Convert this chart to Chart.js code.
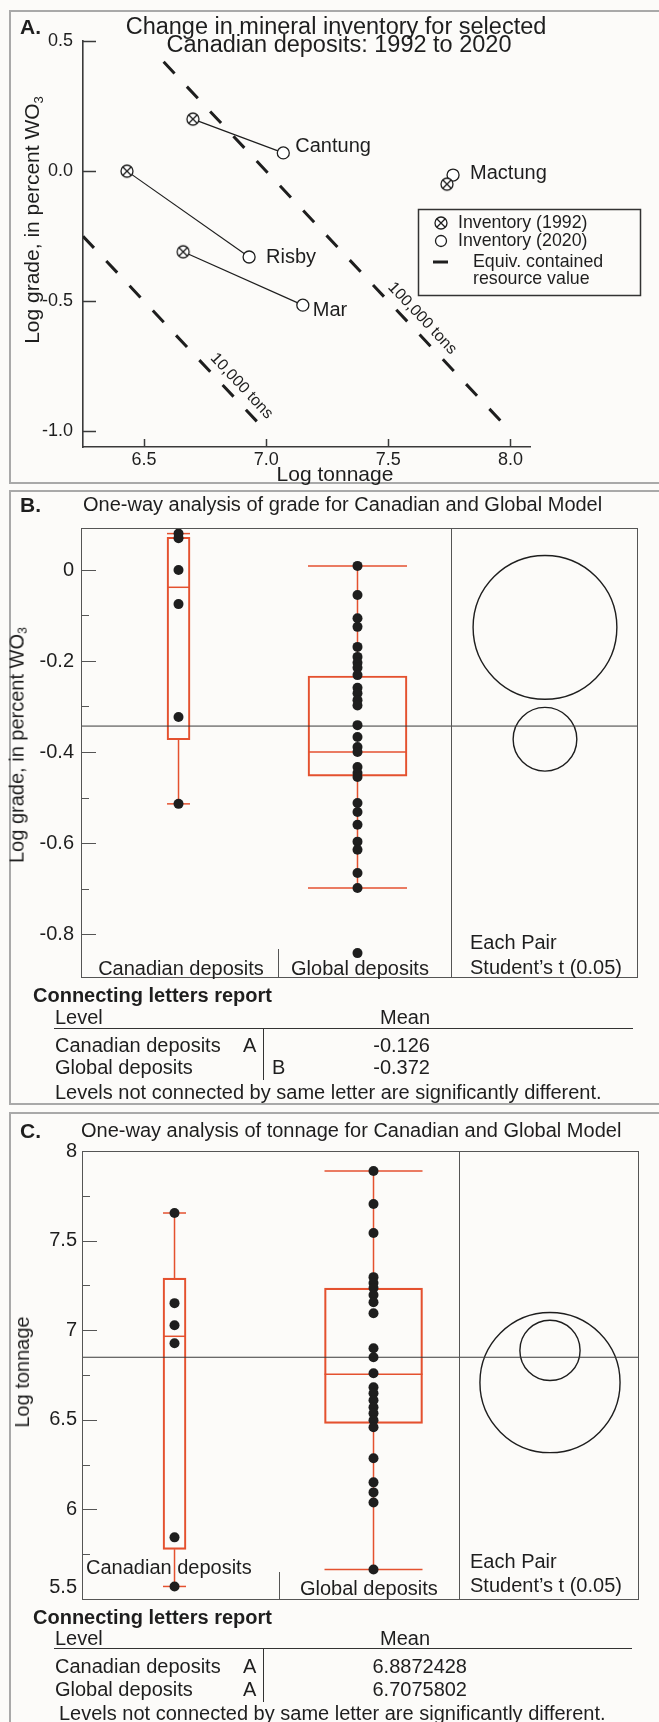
<!DOCTYPE html>
<html>
<head>
<meta charset="utf-8">
<script src="https://cdn.jsdelivr.net/npm/chart.js@4.4.1/dist/chart.umd.min.js"></script>
<style>
  html, body { margin: 0; padding: 0; background: #fcfbf9; }
  body { width: 659px; height: 1722px; position: relative; overflow: hidden;
         font-family: 'Liberation Sans', Arial, Helvetica, sans-serif; color: #1e1e1e; }
  .panel { position: absolute; left: 9px; width: 690px; border: 2px solid #a9a9a9; box-sizing: border-box; }
  canvas { position: absolute; left: 0; }
  .t { position: absolute; white-space: nowrap; line-height: 1; transform: translateY(-50%); }
  .c { transform: translate(-50%, -50%); }
  .r { transform: translate(-100%, -50%); }
  .rot { transform: translate(-50%, -50%) rotate(-90deg); }
  .b { font-weight: bold; }
  .hl { position: absolute; height: 1px; background: #333; }
  .vl { position: absolute; width: 1px; background: #333; }
  .sub { font-size: 0.62em; vertical-align: -0.28em; }
</style>
</head>
<body>
<div class="panel" style="top:10px;height:474px"></div>
<div class="panel" style="top:490px;height:615px"></div>
<div class="panel" style="top:1112px;height:640px"></div>

<canvas id="chartA" width="659" height="484" style="top:0"></canvas>
<canvas id="chartB" width="659" height="615" style="top:490px"></canvas>
<canvas id="chartC" width="659" height="610" style="top:1112px"></canvas>

<!-- Panel A text -->
<div class="t b" style="left:20px;top:26px;font-size:21px">A.</div>
<div class="t c" style="left:336px;top:27px;font-size:23.5px">Change in mineral inventory for selected</div>
<div class="t c" style="left:339px;top:45px;font-size:23.5px">Canadian deposits: 1992 to 2020</div>
<div class="t rot" style="left:33px;top:220px;font-size:21px">Log grade, in percent WO<span class="sub">3</span></div>
<div class="t c" style="left:335px;top:473px;font-size:21px">Log tonnage</div>

<!-- Panel B text -->
<div class="t b" style="left:20px;top:504px;font-size:21px">B.</div>
<div class="t" style="left:83px;top:504px;font-size:20px">One-way analysis of grade for Canadian and Global Model</div>
<div class="t rot" style="left:18px;top:745px;font-size:20px">Log grade, in percent WO<span class="sub">3</span></div>
<div class="t c" style="left:181px;top:968px;font-size:20px">Canadian deposits</div>
<div class="t c" style="left:360px;top:968px;font-size:20px">Global deposits</div>
<div class="t" style="left:470px;top:942px;font-size:20px">Each Pair</div>
<div class="t" style="left:470px;top:967px;font-size:20px">Student’s t (0.05)</div>
<div class="t b" style="left:33px;top:995px;font-size:20px">Connecting letters report</div>
<div class="t" style="left:55px;top:1017px;font-size:20px">Level</div>
<div class="t c" style="left:405px;top:1017px;font-size:20px">Mean</div>
<div class="hl" style="left:54px;top:1028px;width:579px"></div>
<div class="vl" style="left:263px;top:1028px;height:52px"></div>
<div class="t" style="left:55px;top:1045px;font-size:20px">Canadian deposits</div>
<div class="t" style="left:243px;top:1045px;font-size:20px">A</div>
<div class="t r" style="left:430px;top:1045px;font-size:20px">-0.126</div>
<div class="t" style="left:55px;top:1067px;font-size:20px">Global deposits</div>
<div class="t" style="left:272px;top:1067px;font-size:20px">B</div>
<div class="t r" style="left:430px;top:1067px;font-size:20px">-0.372</div>
<div class="t" style="left:55px;top:1092px;font-size:20px">Levels not connected by same letter are significantly different.</div>

<!-- Panel C text -->
<div class="t b" style="left:20px;top:1130px;font-size:21px">C.</div>
<div class="t" style="left:81px;top:1130px;font-size:20px">One-way analysis of tonnage for Canadian and Global Model</div>
<div class="t rot" style="left:22px;top:1372px;font-size:20px">Log tonnage</div>
<div class="t" style="left:86px;top:1567px;font-size:20px">Canadian deposits</div>
<div class="t" style="left:300px;top:1588px;font-size:20px">Global deposits</div>
<div class="t" style="left:470px;top:1561px;font-size:20px">Each Pair</div>
<div class="t" style="left:470px;top:1585px;font-size:20px">Student’s t (0.05)</div>
<div class="t b" style="left:33px;top:1617px;font-size:20px">Connecting letters report</div>
<div class="t" style="left:55px;top:1638px;font-size:20px">Level</div>
<div class="t c" style="left:405px;top:1638px;font-size:20px">Mean</div>
<div class="hl" style="left:54px;top:1648px;width:578px"></div>
<div class="vl" style="left:263px;top:1648px;height:54px"></div>
<div class="t" style="left:55px;top:1666px;font-size:20px">Canadian deposits</div>
<div class="t" style="left:243px;top:1666px;font-size:20px">A</div>
<div class="t r" style="left:467px;top:1666px;font-size:20px">6.8872428</div>
<div class="t" style="left:55px;top:1689px;font-size:20px">Global deposits</div>
<div class="t" style="left:243px;top:1689px;font-size:20px">A</div>
<div class="t r" style="left:467px;top:1689px;font-size:20px">6.7075802</div>
<div class="t" style="left:59px;top:1713px;font-size:20px">Levels not connected by same letter are significantly different.</div>

<script>
// ---------------- Panel A: inventory change, log grade vs log tonnage ----------------
const deposits      = ['Cantung', 'Risby', 'Mar', 'Mactung'];
const logTons1992   = [6.70, 6.43, 6.66, 7.74];
const logGrade1992  = [0.20, 0.00, -0.31, -0.05];
const logTons2020   = [7.07, 6.93, 7.15, 7.765];
const logGrade2020  = [0.07, -0.33, -0.515, -0.015];
const tonTicksA     = [6.5, 7.0, 7.5, 8.0];
const gradeTicksA   = [-1.0, -0.5, 0.0, 0.5];

// equal contained-resource lines (end points in log tonnage / log grade)
const contourNames  = ['10,000 tons', '100,000 tons'];
const contourTons   = [[6.25, 7.0], [6.58, 8.0]];
const contourGrade  = [[-0.25, -1.0], [0.42, -1.0]];
const contourLabelTons = [6.86, 7.60];

// ---------------- Panel B: log grade by group ----------------
const groups        = ['Canadian deposits', 'Global deposits'];
const canadianGrade = [0.080, 0.070, 0.000, -0.075, -0.323, -0.514];
const globalGrade   = [0.009, -0.055, -0.106, -0.125, -0.169, -0.191, -0.204, -0.215, -0.231,
                       -0.259, -0.271, -0.286, -0.298, -0.341, -0.367, -0.389, -0.400, -0.433,
                       -0.446, -0.455, -0.512, -0.532, -0.560, -0.597, -0.615, -0.666, -0.699, -0.842];
const gradeBoxCanadian = { min: -0.514, q1: -0.373, med: -0.038, q3: 0.072, max: 0.080 };
const gradeBoxGlobal   = { min: -0.699, q1: -0.453, med: -0.400, q3: -0.233, max: 0.009 };
const gradeMeans       = [-0.126, -0.372];
const gradeCircleRadii = [0.158, 0.070];
const gradeGrandMean   = -0.343;
const gradeTicksB      = [0, -0.2, -0.4, -0.6, -0.8];
const gradeMinorTicksB = [-0.1, -0.3, -0.5, -0.7];

// ---------------- Panel C: log tonnage by group ----------------
const canadianTons = [7.654, 7.151, 7.028, 6.927, 5.844, 5.570];
const globalTons   = [7.888, 7.704, 7.542, 7.296, 7.263, 7.235, 7.196, 7.156, 7.095, 6.899,
                      6.849, 6.760, 6.682, 6.648, 6.609, 6.570, 6.536, 6.497, 6.458, 6.285,
                      6.151, 6.095, 6.039, 5.665];
const tonBoxCanadian = { min: 5.570, q1: 5.777, med: 6.966, q3: 7.291, max: 7.654 };
const tonBoxGlobal   = { min: 5.665, q1: 6.480, med: 6.754, q3: 7.235, max: 7.888 };
const tonMeans       = [6.8872428, 6.7075802];
const tonCircleRadii = [0.168, 0.391];
const tonGrandMean   = 6.849;
const tonTicksC      = [8, 7.5, 7, 6.5, 6, 5.5];
const tonMinorTicksC = [7.75, 7.25, 6.75, 6.25, 5.75];

// ---------------- shared styling ----------------
const FONT = "'Liberation Sans', Arial, Helvetica, sans-serif";
const INK = '#1e1e1e';
const RED = '#e4512f';
Chart.defaults.font.family = FONT;
Chart.defaults.color = INK;

// horizontal placement of the groups inside the B / C frames (fraction of frame width)
const layoutB = { pos: [0.1754, 0.4973], boundary: 0.3543, divider: 0.6655, circles: 0.8345, boxPx: [23, 99] };
const layoutC = { pos: [0.1664, 0.5243], boundary: 0.3543, divider: 0.678,  circles: 0.8417, boxPx: [23, 98] };

// circled-cross marker for the 1992 inventory
function crossCircleImage(r, lw) {
  const size = Math.ceil(2 * r + lw + 2);
  const c = document.createElement('canvas');
  c.width = c.height = size;
  const g = c.getContext('2d');
  const m = size / 2;
  g.fillStyle = '#fff';
  g.strokeStyle = INK;
  g.lineWidth = lw;
  g.beginPath(); g.arc(m, m, r, 0, Math.PI * 2); g.fill(); g.stroke();
  const d = r * Math.SQRT1_2;
  g.beginPath();
  g.moveTo(m - d, m - d); g.lineTo(m + d, m + d);
  g.moveTo(m + d, m - d); g.lineTo(m - d, m + d);
  g.stroke();
  return c;
}
const crossImg = crossCircleImage(6, 1.3);

// tick marks that point into the plot area
function inwardTicks(axes, color, width) {
  return {
    id: 'inwardTicks',
    afterDatasetsDraw(chart) {
      const { ctx, chartArea: a } = chart;
      ctx.save();
      ctx.strokeStyle = color;
      ctx.lineWidth = width;
      axes.forEach(ax => {
        const s = chart.scales[ax.id];
        s.ticks.forEach(t => {
          const len = ax.isMajor(t.value) ? ax.major : ax.minor;
          const p = Math.round(s.getPixelForValue(t.value)) + 0.5;
          ctx.beginPath();
          if (s.isHorizontal()) { ctx.moveTo(p, a.bottom); ctx.lineTo(p, a.bottom - len); }
          else { ctx.moveTo(a.left, p); ctx.lineTo(a.left + len, p); }
          ctx.stroke();
        });
      });
      ctx.restore();
    }
  };
}

// frame, divider before the comparison circles, and the group boundary mark
function framePlugin(lay, boundaryLen) {
  return {
    id: 'frame',
    afterDatasetsDraw(chart) {
      const { ctx, chartArea: a } = chart;
      const x = chart.scales.x;
      ctx.save();
      ctx.strokeStyle = '#555';
      ctx.lineWidth = 1;
      ctx.strokeRect(Math.round(a.left) + 0.5, Math.round(a.top) + 0.5,
                     Math.round(a.right - a.left), Math.round(a.bottom - a.top));
      const dx = Math.round(x.getPixelForValue(lay.divider)) + 0.5;
      ctx.beginPath(); ctx.moveTo(dx, a.top); ctx.lineTo(dx, a.bottom); ctx.stroke();
      const bx = Math.round(x.getPixelForValue(lay.boundary)) + 0.5;
      ctx.beginPath(); ctx.moveTo(bx, a.bottom); ctx.lineTo(bx, a.bottom - boundaryLen); ctx.stroke();
      ctx.restore();
    }
  };
}

// box, whiskers, caps and median for one group
function boxDatasets(x, st, widthPx) {
  const half = widthPx / 2;
  return [
    { type: 'bar', data: [{ x, y: [st.q1, st.q3] }], grouped: false, barThickness: widthPx,
      backgroundColor: 'rgba(0,0,0,0)', borderColor: RED, borderWidth: 1.5, borderSkipped: false, order: 4 },
    { type: 'scatter', showLine: true, spanGaps: false,
      data: [{ x, y: st.max }, { x, y: st.q3 }, { x, y: null }, { x, y: st.q1 }, { x, y: st.min }],
      borderColor: RED, borderWidth: 1.5, pointRadius: 0, order: 4 },
    { type: 'scatter', data: [{ x, y: st.max }, { x, y: st.med }, { x, y: st.min }],
      pointStyle: 'line', pointRadius: half, borderColor: RED, borderWidth: 1.5, order: 4 }
  ];
}

function dotDataset(x, values) {
  return { type: 'scatter', data: values.map(v => ({ x, y: v })), pointRadius: 5,
           backgroundColor: INK, borderColor: INK, borderWidth: 0, order: 1 };
}

function meanLine(m) {
  return { type: 'scatter', showLine: true, data: [{ x: 0, y: m }, { x: 1, y: m }],
           borderColor: '#3a3a3a', borderWidth: 1, pointRadius: 0, order: 2 };
}

function circleDataset(x, means, radii) {
  return {
    type: 'scatter', data: means.map(m => ({ x, y: m })), pointStyle: 'circle',
    pointRadius: ctx => {
      const s = ctx.chart.scales.y;
      const r = radii[ctx.dataIndex];
      if (r === undefined || !s) return 0;
      return Math.abs(s.getPixelForValue(0) - s.getPixelForValue(r));
    },
    backgroundColor: 'rgba(0,0,0,0)', borderColor: INK, borderWidth: 1.4, order: 3
  };
}

const baseOpts = {
  responsive: false, animation: false, events: [],
  plugins: { legend: { display: false }, tooltip: { enabled: false } }
};

// ---------------- chart A ----------------
const labelOffsetA = [[12, -6], [17, 0], [10, 5], [17, -2]];

const annotateA = {
  id: 'annotateA',
  afterDatasetsDraw(chart) {
    const { ctx, scales: { x, y } } = chart;
    ctx.save();
    ctx.fillStyle = INK;
    ctx.textBaseline = 'middle';
    ctx.textAlign = 'left';
    ctx.font = `20px ${FONT}`;
    deposits.forEach((name, i) => {
      ctx.fillText(name, x.getPixelForValue(logTons2020[i]) + labelOffsetA[i][0],
                         y.getPixelForValue(logGrade2020[i]) + labelOffsetA[i][1]);
    });
    // contour labels laid along their dashed lines
    ctx.font = `16px ${FONT}`;
    ctx.textAlign = 'center';
    contourNames.forEach((name, i) => {
      const [t0, t1] = contourTons[i], [g0, g1] = contourGrade[i];
      const x0 = x.getPixelForValue(t0), y0 = y.getPixelForValue(g0);
      const x1 = x.getPixelForValue(t1), y1 = y.getPixelForValue(g1);
      const ang = Math.atan2(y1 - y0, x1 - x0);
      const f = (contourLabelTons[i] - t0) / (t1 - t0);
      const px = x0 + f * (x1 - x0) + 13 * Math.sin(ang);
      const py = y0 + f * (y1 - y0) - 13 * Math.cos(ang);
      ctx.save();
      ctx.translate(px, py);
      ctx.rotate(ang);
      ctx.fillText(name, 0, 0);
      ctx.restore();
    });
    // legend box
    ctx.strokeStyle = '#333';
    ctx.lineWidth = 1.5;
    ctx.strokeRect(418.5, 209.5, 222, 86);
    ctx.drawImage(crossImg, 441 - crossImg.width / 2, 223 - crossImg.height / 2);
    ctx.beginPath(); ctx.arc(441, 241, 5.5, 0, Math.PI * 2);
    ctx.fillStyle = '#fff'; ctx.fill();
    ctx.strokeStyle = INK; ctx.lineWidth = 1.3; ctx.stroke();
    ctx.beginPath(); ctx.moveTo(433, 262); ctx.lineTo(448, 262);
    ctx.lineWidth = 3; ctx.stroke();
    ctx.fillStyle = INK;
    ctx.textAlign = 'left';
    ctx.font = `17.8px ${FONT}`;
    ctx.fillText('Inventory (1992)', 458, 223);
    ctx.fillText('Inventory (2020)', 458, 241);
    ctx.fillText('Equiv. contained', 473, 262);
    ctx.fillText('resource value', 473, 279);
    ctx.restore();
  }
};

const datasetsA = [];
contourNames.forEach((n, i) => {
  datasetsA.push({ type: 'scatter', showLine: true,
    data: contourTons[i].map((t, k) => ({ x: t, y: contourGrade[i][k] })),
    borderColor: INK, borderWidth: 3, borderDash: [16, 18], pointRadius: 0, order: 5 });
});
deposits.forEach((n, i) => {
  datasetsA.push({ type: 'scatter', showLine: true,
    data: [{ x: logTons1992[i], y: logGrade1992[i] }, { x: logTons2020[i], y: logGrade2020[i] }],
    borderColor: INK, borderWidth: 1.2, pointRadius: 0, order: 4 });
});
datasetsA.push({ type: 'scatter', data: deposits.map((n, i) => ({ x: logTons2020[i], y: logGrade2020[i] })),
  pointStyle: 'circle', pointRadius: 6, backgroundColor: '#fff', borderColor: INK, borderWidth: 1.3, order: 2 });
datasetsA.push({ type: 'scatter', data: deposits.map((n, i) => ({ x: logTons1992[i], y: logGrade1992[i] })),
  pointStyle: crossImg, pointRadius: 6, order: 1 });

new Chart(document.getElementById('chartA'), {
  type: 'scatter',
  data: { datasets: datasetsA },
  options: {
    ...baseOpts,
    layout: { autoPadding: false, padding: { left: 0, right: 129, top: 41, bottom: 0 } },
    scales: {
      x: { type: 'linear', min: 6.25, max: 8.08, offset: false,
           afterBuildTicks: s => { s.ticks = tonTicksA.map(v => ({ value: v })); },
           ticks: { callback: v => v.toFixed(1), font: { size: 18 }, padding: 2, autoSkip: false, maxRotation: 0 },
           grid: { display: false, drawTicks: false },
           border: { display: true, color: '#3a3a3a', width: 1.6 },
           afterFit: s => { s.height = 37; } },
      y: { type: 'linear', min: -1.06, max: 0.5, offset: false,
           afterBuildTicks: s => { s.ticks = gradeTicksA.map(v => ({ value: v })); },
           ticks: { callback: v => v.toFixed(1), font: { size: 18 }, padding: 10, autoSkip: false },
           grid: { display: false, drawTicks: false },
           border: { display: true, color: '#3a3a3a', width: 1.6 },
           afterFit: s => { s.width = 83; } }
    }
  },
  plugins: [
    inwardTicks([{ id: 'y', major: 13, minor: 13, isMajor: () => true },
                 { id: 'x', major: 8, minor: 8, isMajor: () => true }], '#3a3a3a', 1.5),
    annotateA
  ]
});

// ---------------- chart B ----------------
const isMajorB = v => Math.abs(Math.round(v * 10)) % 2 === 0;
new Chart(document.getElementById('chartB'), {
  type: 'scatter',
  data: { datasets: [
    dotDataset(layoutB.pos[0], canadianGrade),
    dotDataset(layoutB.pos[1], globalGrade),
    meanLine(gradeGrandMean),
    circleDataset(layoutB.circles, gradeMeans, gradeCircleRadii),
    ...boxDatasets(layoutB.pos[0], gradeBoxCanadian, layoutB.boxPx[0]),
    ...boxDatasets(layoutB.pos[1], gradeBoxGlobal, layoutB.boxPx[1])
  ]},
  options: {
    ...baseOpts,
    layout: { autoPadding: false, padding: { left: 0, right: 22, top: 38, bottom: 128 } },
    scales: {
      x: { type: 'linear', min: 0, max: 1, display: false, offset: false },
      y: { type: 'linear', min: -0.8945, max: 0.0923, offset: false, beginAtZero: false,
           afterBuildTicks: s => { s.ticks = gradeTicksB.concat(gradeMinorTicksB).sort((a, b) => a - b).map(v => ({ value: v })); },
           ticks: { callback: v => isMajorB(v) ? String(Number(v.toFixed(1))) : '',
                    font: { size: 20 }, padding: 7, autoSkip: false },
           grid: { display: false, drawTicks: false },
           border: { display: false },
           afterFit: s => { s.width = 81; } }
    }
  },
  plugins: [
    inwardTicks([{ id: 'y', major: 15, minor: 8, isMajor: isMajorB }], '#555', 1),
    framePlugin(layoutB, 28)
  ]
});

// ---------------- chart C ----------------
const isMajorC = v => Math.abs(v * 2 - Math.round(v * 2)) < 1e-6;
// the lowest label sits just above the frame's bottom edge (two-line label, empty second line)
const tonLabelC = v => {
  if (!isMajorC(v)) return '';
  return v === Math.min(...tonTicksC) ? [String(v), ''] : String(v);
};
new Chart(document.getElementById('chartC'), {
  type: 'scatter',
  data: { datasets: [
    dotDataset(layoutC.pos[0], canadianTons),
    dotDataset(layoutC.pos[1], globalTons),
    meanLine(tonGrandMean),
    circleDataset(layoutC.circles, tonMeans, tonCircleRadii),
    ...boxDatasets(layoutC.pos[0], tonBoxCanadian, layoutC.boxPx[0]),
    ...boxDatasets(layoutC.pos[1], tonBoxGlobal, layoutC.boxPx[1])
  ]},
  options: {
    ...baseOpts,
    layout: { autoPadding: false, padding: { left: 0, right: 21, top: 39, bottom: 123 } },
    scales: {
      x: { type: 'linear', min: 0, max: 1, display: false, offset: false },
      y: { type: 'linear', min: 5.5, max: 8, offset: false, beginAtZero: false,
           afterBuildTicks: s => { s.ticks = tonTicksC.concat(tonMinorTicksC).sort((a, b) => a - b).map(v => ({ value: v })); },
           ticks: { callback: tonLabelC, font: { size: 20 }, padding: 5, autoSkip: false },
           grid: { display: false, drawTicks: false },
           border: { display: false },
           afterFit: s => { s.width = 82; } }
    }
  },
  plugins: [
    inwardTicks([{ id: 'y', major: 15, minor: 8, isMajor: isMajorC }], '#555', 1),
    framePlugin(layoutC, 27)
  ]
});
</script>
</body>
</html>
